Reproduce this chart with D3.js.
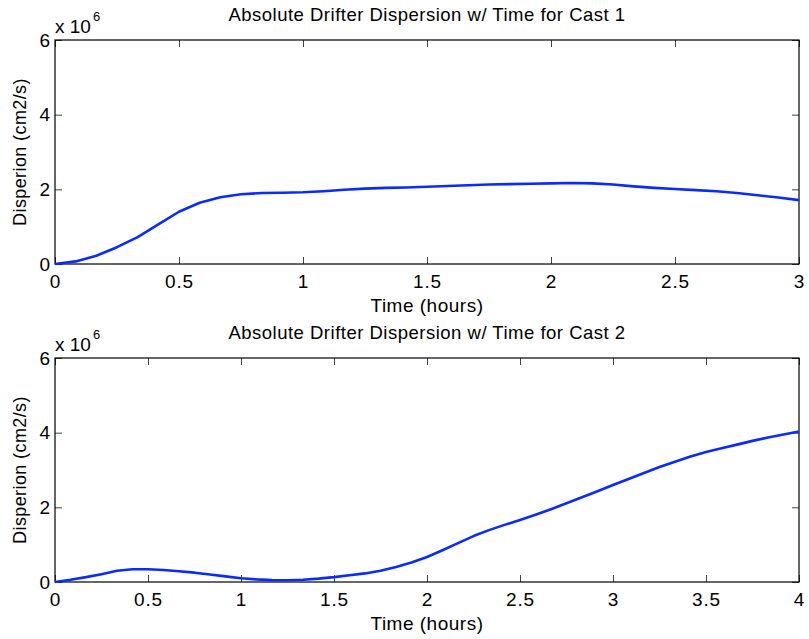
<!DOCTYPE html>
<html>
<head>
<meta charset="utf-8">
<script src="https://cdn.jsdelivr.net/npm/d3@7"></script>
<style>
  body { margin: 0; background: #fff; }
  text { font-family: Helvetica, "Liberation Sans", Arial, sans-serif; fill: #000; }
</style>
</head>
<body>
<svg id="chart"></svg>
<script>
const svgWidth = 809, svgHeight = 639;

// time in hours, sampled every 5 minutes
const time1 = d3.range(0, 37).map(k => k / 12);
const time2 = d3.range(0, 49).map(k => k / 12);

// dispersion in units of 1e6 cm2/s
const cast1 = [0, 0.07, 0.22, 0.45, 0.72, 1.06, 1.40, 1.64, 1.79, 1.87, 1.90, 1.91, 1.92,
  1.95, 1.99, 2.02, 2.04, 2.05, 2.07, 2.09, 2.11, 2.13, 2.14, 2.15, 2.16,
  2.17, 2.16, 2.13, 2.08, 2.04, 2.01, 1.98, 1.95, 1.90, 1.84, 1.78, 1.71];
const cast2 = [0, 0.06, 0.13, 0.21, 0.30, 0.34, 0.34, 0.32, 0.29, 0.25, 0.20, 0.15, 0.10,
  0.07, 0.05, 0.045, 0.06, 0.09, 0.13, 0.18, 0.23, 0.30, 0.40, 0.52, 0.67,
  0.85, 1.04, 1.23, 1.39, 1.53, 1.66, 1.80, 1.95, 2.11, 2.27, 2.43, 2.60,
  2.76, 2.92, 3.08, 3.22, 3.36, 3.48, 3.58, 3.68, 3.78, 3.87, 3.95, 4.03];

const xTicks1 = [0, 0.5, 1, 1.5, 2, 2.5, 3];
const xTicks2 = [0, 0.5, 1, 1.5, 2, 2.5, 3, 3.5, 4];
const yTicks = [0, 2, 4, 6];
const titles = ["Absolute Drifter Dispersion w/ Time for Cast 1", "Absolute Drifter Dispersion w/ Time for Cast 2"];

const svg = d3.select("#chart")
  .attr("width", svgWidth)
  .attr("height", svgHeight);

const left = 55, right = 799, plotH = 224;

function drawPanel(top, times, values, xTicks, xMax, title) {
  const x = d3.scaleLinear().domain([0, xMax]).range([left, right]);
  const y = d3.scaleLinear().domain([0, 6]).range([top + plotH, top]);
  const g = svg.append("g");

  // inward ticks on all four sides, like matlab
  const tickLen = 7;
  g.append("g").attr("transform", `translate(0,${top + plotH})`)
    .call(d3.axisBottom(x).tickValues(xTicks).tickSize(-tickLen).tickFormat(d3.format("~g")).tickPadding(11))
    .call(a => a.select(".domain").remove())
    .call(a => a.selectAll("line").attr("stroke", "#444"))
    .call(a => a.selectAll("text").attr("font-size", 19).attr("letter-spacing", 0.8).attr("fill", "#000"));
  g.append("g").attr("transform", `translate(0,${top})`)
    .call(d3.axisTop(x).tickValues(xTicks).tickSize(-tickLen).tickFormat(""))
    .call(a => a.select(".domain").remove())
    .call(a => a.selectAll("line").attr("stroke", "#444"));
  g.append("g").attr("transform", `translate(${left},0)`)
    .call(d3.axisLeft(y).tickValues(yTicks).tickSize(-tickLen).tickFormat(d3.format("d")).tickPadding(5))
    .call(a => a.select(".domain").remove())
    .call(a => a.selectAll("line").attr("stroke", "#444"))
    .call(a => a.selectAll("text").attr("font-size", 19).attr("fill", "#000"));
  g.append("g").attr("transform", `translate(${right},0)`)
    .call(d3.axisRight(y).tickValues(yTicks).tickSize(-tickLen).tickFormat(""))
    .call(a => a.select(".domain").remove())
    .call(a => a.selectAll("line").attr("stroke", "#444"));

  g.append("rect")
    .attr("x", left).attr("y", top)
    .attr("width", right - left).attr("height", plotH)
    .attr("fill", "none").attr("stroke", "#000").attr("stroke-width", 1.2);

  const line = d3.line().x((d, i) => x(times[i])).y(d => y(d)).curve(d3.curveLinear);
  g.append("path")
    .datum(values)
    .attr("d", line)
    .attr("fill", "none")
    .attr("stroke", "#0a2bff")
    .attr("stroke-width", 2.6)
    .attr("stroke-linejoin", "round");

  g.append("text")
    .text(title)
    .attr("x", (left + right) / 2)
    .attr("y", top - 19)
    .attr("text-anchor", "middle")
    .attr("letter-spacing", 0.5)
    .attr("font-size", 18.5);

  g.append("text")
    .text("Time (hours)")
    .attr("x", (left + right) / 2)
    .attr("y", top + plotH + 48)
    .attr("text-anchor", "middle")
    .attr("letter-spacing", 0.5)
    .attr("font-size", 19);

  g.append("text")
    .text("Disperion (cm2/s)")
    .attr("transform", `translate(26,${top + plotH / 2}) rotate(-90)`)
    .attr("text-anchor", "middle")
    .attr("letter-spacing", 0.4)
    .attr("font-size", 18);

  const exp = g.append("text")
    .attr("x", left)
    .attr("y", top - 7)
    .attr("font-size", 19);
  exp.append("tspan").text("x 10");
  exp.append("tspan").text("6").attr("font-size", 13).attr("dy", -12).attr("dx", 2);
}

drawPanel(40, time1, cast1, xTicks1, 3, titles[0]);
drawPanel(358, time2, cast2, xTicks2, 4, titles[1]);
</script>
</body>
</html>
